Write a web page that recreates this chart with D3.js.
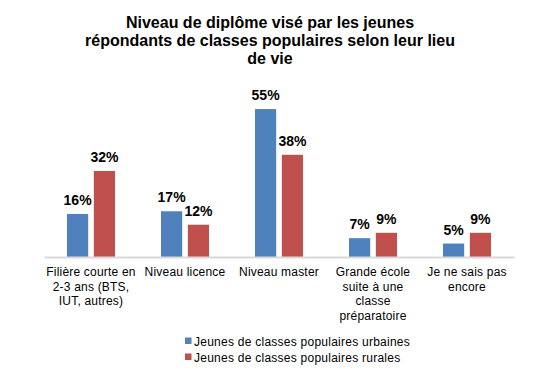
<!DOCTYPE html>
<html>
<head>
<meta charset="utf-8">
<script src="https://d3js.org/d3.v7.min.js"></script>
<style>
body { margin: 0; background: #fff; font-family: "Liberation Sans", Arial, sans-serif; }
svg { display: block; }
</style>
</head>
<body>
<svg id="chart" width="551" height="387"></svg>
<script>
// data
var categories = ["Filière courte en 2-3 ans (BTS, IUT, autres)", "Niveau licence", "Niveau master",
                  "Grande école suite à une classe préparatoire", "Je ne sais pas encore"];
var catLines = [["Filière courte en", "2-3 ans (BTS,", "IUT, autres)"],
                ["Niveau licence"],
                ["Niveau master"],
                ["Grande école", "suite à une", "classe", "préparatoire"],
                ["Je ne sais pas", "encore"]];
var seriesNames = ["Jeunes de classes populaires urbaines", "Jeunes de classes populaires rurales"];
var urbaines = [0.16, 0.17, 0.55, 0.07, 0.05];
var rurales = [0.32, 0.12, 0.38, 0.09, 0.09];
var colors = ["#4f81bd", "#c0504d"];
var titleLines = ["Niveau de diplôme visé par les jeunes",
                  "répondants de classes populaires selon leur lieu",
                  "de vie"];

var svg = d3.select("#chart");
var rows = categories.map((c, i) => ({cat: c, vals: [urbaines[i], rurales[i]]}));

var x = d3.scaleBand().domain(categories).range([44, 514]);
var xs = d3.scaleBand().domain([0, 1]).range([-24, 24]).paddingInner(0.21);
var y = d3.scaleLinear().domain([0, 0.6]).range([257, 95.6]);
var fmt = d3.format(".0%");

// title
svg.append("text")
  .attr("x", 270).attr("y", 28)
  .attr("text-anchor", "middle")
  .style("font-size", "16px").style("font-weight", "bold")
  .selectAll("tspan").data(titleLines).join("tspan")
  .attr("x", 270).attr("dy", (d, i) => i ? 18 : 0)
  .text(d => d);

// bars
var g = svg.selectAll("g.cat").data(rows).join("g")
  .attr("class", "cat")
  .attr("transform", d => `translate(${x(d.cat) + x.bandwidth() / 2},0)`);

g.selectAll("rect").data(d => d.vals).join("rect")
  .attr("x", (d, i) => xs(i))
  .attr("width", xs.bandwidth())
  .attr("y", d => y(d))
  .attr("height", d => y(0) - y(d))
  .attr("fill", (d, i) => colors[i]);

g.selectAll("text.val").data(d => d.vals).join("text")
  .attr("class", "val")
  .attr("x", (d, i) => xs(i) + xs.bandwidth() / 2)
  .attr("y", d => y(d) - 9)
  .attr("text-anchor", "middle")
  .style("font-size", "14px").style("font-weight", "bold")
  .text(d => fmt(d));

// axis
var xAxis = svg.append("g").attr("transform", "translate(0,257)")
  .call(d3.axisBottom(x).tickSize(0).tickFormat(""));
xAxis.select(".domain").attr("stroke", "#d9d9d9").attr("stroke-width", 2);

svg.selectAll("text.cl").data(catLines).join("text")
  .attr("class", "cl")
  .attr("text-anchor", "middle")
  .attr("y", 276)
  .style("font-size", "12px").style("letter-spacing", "0.2px")
  .each(function (lines, i) {
    var cx = x(categories[i]) + x.bandwidth() / 2;
    d3.select(this).selectAll("tspan").data(lines).join("tspan")
      .attr("x", cx).attr("dy", (d, j) => j ? 14.5 : 0)
      .text(d => d);
  });

// legend
var leg = svg.selectAll("g.leg").data(seriesNames).join("g")
  .attr("class", "leg")
  .attr("transform", (d, i) => `translate(185,${341 + i * 16})`);
leg.append("rect").attr("x", 0).attr("y", -3.5).attr("width", 6.5).attr("height", 6.5)
  .attr("fill", (d, i) => colors[i]);
leg.append("text").attr("x", 9).attr("y", 4.5)
  .style("font-size", "12px").style("letter-spacing", "0.25px").text(d => d);
</script>
</body>
</html>
